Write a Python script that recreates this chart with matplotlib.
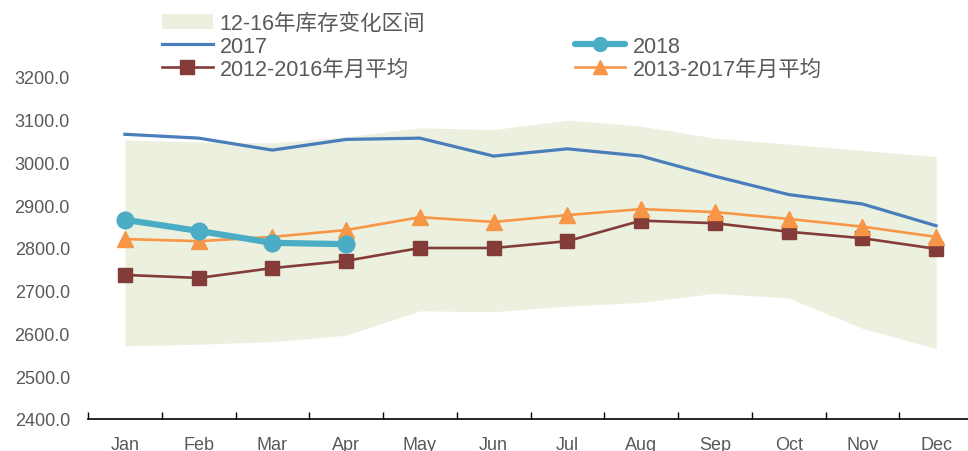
import matplotlib
matplotlib.use("Agg")
import matplotlib.pyplot as plt
from matplotlib.patches import Patch
from matplotlib.lines import Line2D

plt.rcParams['font.family'] = ['Liberation Sans', 'Noto Sans CJK SC', 'DejaVu Sans']

months = ["Jan", "Feb", "Mar", "Apr", "May", "Jun", "Jul", "Aug", "Sep", "Oct", "Nov", "Dec"]
band_low = [2571, 2575, 2581, 2596, 2653, 2651, 2664, 2673, 2694, 2683, 2612, 2565]
band_high = [3053, 3048, 3046, 3060, 3081, 3077, 3099, 3085, 3057, 3043, 3028, 3014]
y2017 = [3066, 3057, 3029, 3054, 3057, 3015, 3032, 3015, 2968, 2925, 2903, 2852]
y2018 = [2866, 2840, 2812, 2809]
avg1216 = [2737, 2730, 2753, 2770, 2800, 2800, 2816, 2864, 2858, 2838, 2823, 2798]
avg1317 = [2821, 2816, 2826, 2842, 2872, 2861, 2877, 2891, 2884, 2868, 2850, 2826]
yticks = [2400, 2500, 2600, 2700, 2800, 2900, 3000, 3100, 3200]

c_band = '#EBF0DF'
c_2017 = '#4A7EBB'
c_2018 = '#4BACC6'
c_brown = '#843C39'
c_orange = '#F79646'
c_text = '#595959'

W, H = 968, 452
fig = plt.figure(figsize=(W/100, H/100), dpi=100)
ax = fig.add_axes([88/W, (H-420)/H, 885/W, (420-78)/H])

x = list(range(len(months)))
ax.fill_between(x, band_low, band_high, color=c_band, lw=0, zorder=1)
ax.plot(x, y2017, color=c_2017, lw=2.3, zorder=3)
ax.plot(x, avg1216, color=c_brown, lw=1.9, marker='s', ms=10.5, mec=c_brown, zorder=4)
ax.plot(x, avg1317, color=c_orange, lw=1.9, marker='^', ms=11, mec=c_orange, zorder=5)
ax.plot(x[:len(y2018)], y2018, color=c_2018, lw=4.5, marker='o', ms=12, mec=c_2018,
        zorder=6, solid_capstyle='round')

ax.set_xlim(-0.5, 11.5)
ax.set_ylim(2400, 3200)
ax.set_yticks(yticks)
ax.set_yticklabels([f"{v:.1f}" for v in yticks])
ax.set_xticks(x)
ax.set_xticklabels(months)
ax.set_xticks([i - 0.5 for i in range(13)], minor=True)

for s in ['top', 'right', 'left']:
    ax.spines[s].set_visible(False)
ax.spines['bottom'].set_color('black')
ax.spines['bottom'].set_linewidth(1.2)

ax.tick_params(axis='y', length=0, pad=13, labelsize=13, labelcolor=c_text)
ax.tick_params(axis='x', which='major', length=0, pad=12, labelsize=13, labelcolor=c_text)
ax.tick_params(axis='x', which='minor', direction='in', length=5, width=1, color='black')

handles = [
    Patch(facecolor=c_band, edgecolor='none'),
    Line2D([], [], color=c_2017, lw=2.3),
    Line2D([], [], color=c_brown, lw=1.9, marker='s', ms=10.5),
    Line2D([], [], color='none'),
    Line2D([], [], color=c_2018, lw=4.5, marker='o', ms=10, solid_capstyle='round'),
    Line2D([], [], color=c_orange, lw=1.9, marker='^', ms=10),
]
labels = ["12-16年库存变化区间", "2017", "2012-2016年月平均", "", "2018", "2013-2017年月平均"]
leg = fig.legend(handles, labels, ncol=2, loc='upper left',
                 bbox_to_anchor=(162/W, 1 - 14/H), frameon=False,
                 fontsize=15.5, handlelength=2.35, handletextpad=0.33,
                 columnspacing=6.95, labelspacing=0.08, borderpad=0, borderaxespad=0)
for t in leg.get_texts():
    t.set_color(c_text)

fig.savefig("out.png", dpi=100)
